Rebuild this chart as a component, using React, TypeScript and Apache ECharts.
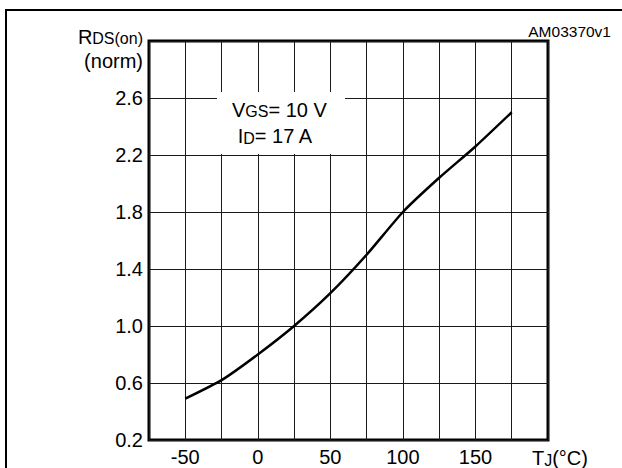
import React, { useEffect, useRef } from 'react';
import * as echarts from 'echarts';

// Junction temperature (°C) and normalized RDS(on)
const tempC = [-50, -25, 0, 25, 50, 75, 100, 125, 150, 175];
const rdsNorm = [0.49, 0.62, 0.8, 1.0, 1.23, 1.5, 1.8, 2.04, 2.26, 2.5];
const xTickLabels = [-50, 0, 50, 100, 150];
const yHiddenLabels = [3.0];

const FF = '"Liberation Sans", Arial, Helvetica, sans-serif';

export default function App() {
  const ref = useRef<HTMLDivElement>(null);
  useEffect(() => {
    document.body.style.margin = '0';
    const chart = echarts.init(ref.current!, null, { renderer: 'svg' });
    const big = (extra = {}) => ({ fontSize: 20, fontFamily: FF, fill: '#000', verticalAlign: 'bottom', ...extra });
    const small = (extra = {}) => ({ fontSize: 16, fontFamily: FF, fill: '#000', verticalAlign: 'bottom', ...extra });
    chart.setOption({
      animation: false,
      backgroundColor: '#fff',
      grid: {
        left: 149,
        top: 41,
        width: 399,
        height: 399,
        show: true,
        borderColor: '#000',
        borderWidth: 3,
        backgroundColor: 'transparent',
        containLabel: false,
      },
      xAxis: {
        type: 'value',
        min: -75,
        max: 200,
        interval: 25,
        axisLine: { show: false },
        axisTick: { show: false },
        splitLine: { show: true, lineStyle: { color: '#1a1a1a', width: 1 } },
        axisLabel: {
          margin: 7,
          fontSize: 20,
          fontFamily: FF,
          color: '#000',
          formatter: (v: number) => (xTickLabels.some((t) => Math.abs(t - v) < 1e-6) ? String(v) : ''),
        },
      },
      yAxis: {
        type: 'value',
        min: 0.2,
        max: 3.0,
        interval: 0.4,
        axisLine: { show: false },
        axisTick: { show: false },
        splitLine: { show: true, lineStyle: { color: '#1a1a1a', width: 1 } },
        axisLabel: {
          margin: 6,
          fontSize: 20,
          fontFamily: FF,
          color: '#000',
          formatter: (v: number) => (yHiddenLabels.some((t) => Math.abs(t - v) < 1e-6) ? '' : v.toFixed(1)),
        },
      },
      series: [
        {
          type: 'line',
          data: tempC.map((t, i) => [t, rdsNorm[i]]),
          showSymbol: false,
          smooth: 0.2,
          lineStyle: { color: '#000', width: 2.5 },
          z: 5,
        },
      ],
      graphic: [
        { type: 'line', z: 1, shape: { x1: 6, y1: 10, x2: 6, y2: 468 }, style: { stroke: '#000', lineWidth: 2 } },
        { type: 'line', z: 1, shape: { x1: 5, y1: 10, x2: 622, y2: 10 }, style: { stroke: '#000', lineWidth: 2 } },
        {
          type: 'text',
          x: 611,
          y: 31.6,
          style: { text: 'AM03370v1', fontSize: 15.5, fontFamily: FF, fill: '#000', align: 'right', verticalAlign: 'middle' },
        },
        {
          type: 'text',
          x: 143,
          y: 36.5,
          style: {
            text: '{a|R}{b|DS(on)}',
            align: 'right',
            verticalAlign: 'middle',
            rich: { a: big(), b: small() },
          },
        },
        {
          type: 'text',
          x: 143,
          y: 61,
          style: { text: '(norm)', fontSize: 20, fontFamily: FF, fill: '#000', align: 'right', verticalAlign: 'middle' },
        },
        {
          type: 'rect',
          z: 10,
          shape: { x: 217, y: 92, width: 128, height: 62 },
          style: { fill: '#fff', stroke: null },
        },
        {
          type: 'text',
          z: 11,
          x: 232,
          y: 109.7,
          style: {
            text: '{a|V}{b|GS}{a|= 10 V}',
            align: 'left',
            verticalAlign: 'middle',
            rich: { a: big(), b: small() },
          },
        },
        {
          type: 'text',
          z: 11,
          x: 237.7,
          y: 136.3,
          style: {
            text: '{a|I}{b|D}{a|= 17 A}',
            align: 'left',
            verticalAlign: 'middle',
            rich: { a: big(), b: small() },
          },
        },
        {
          type: 'text',
          x: 532,
          y: 458,
          style: {
            text: '{a|T}{b|J}{a|(°C)}',
            align: 'left',
            verticalAlign: 'middle',
            rich: { a: big(), b: small() },
          },
        },
      ],
    });
    return () => chart.dispose();
  }, []);
  return (
    <div
      ref={ref}
      style={{ position: 'absolute', left: 0, top: 0, width: 622, height: 468, background: '#fff' }}
    />
  );
}
